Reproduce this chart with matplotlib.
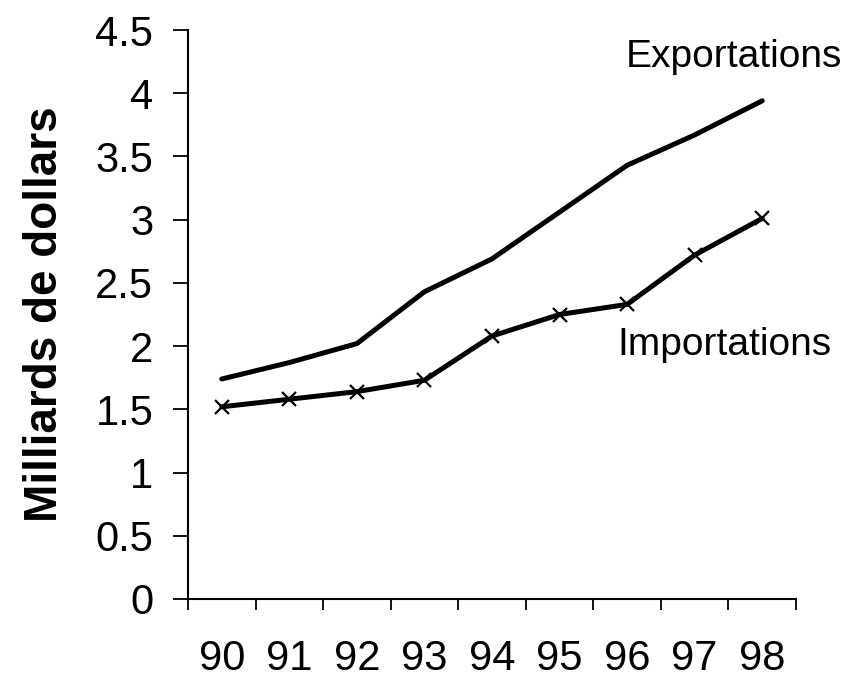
import matplotlib
matplotlib.use("Agg")
import matplotlib.pyplot as plt
import numpy as np

years = ["90", "91", "92", "93", "94", "95", "96", "97", "98"]
exportations = [1.74, 1.87, 2.02, 2.43, 2.69, 3.06, 3.43, 3.67, 3.94]
importations = [1.52, 1.58, 1.64, 1.73, 2.08, 2.25, 2.33, 2.72, 3.01]
yticks = [0, 0.5, 1, 1.5, 2, 2.5, 3, 3.5, 4, 4.5]
ytick_labels = ["0", "0.5", "1", "1.5", "2", "2.5", "3", "3.5", "4", "4.5"]

plt.rcParams['font.family'] = ['Liberation Sans', 'DejaVu Sans']

W, H = 866, 681
fig = plt.figure(figsize=(W / 100, H / 100), dpi=100)
left, right, bottom, top = 188, 796, 599, 30
ax = fig.add_axes([left / W, (H - bottom) / H, (right - left) / W, (bottom - top) / H])

x = np.arange(len(years))
ax.plot(x, exportations, color='black', lw=3.6, solid_capstyle='round', solid_joinstyle='round')
ax.plot(x, importations, color='black', lw=3.6, marker='x', markersize=10, markeredgewidth=1.6,
        solid_capstyle='round', solid_joinstyle='round')

ax.set_xlim(-0.5, len(years) - 0.5)
ax.set_ylim(0, 4.5)

ax.set_xticks(np.arange(-0.5, len(years), 1.0))
ax.set_xticklabels([])
ax.set_xticks(x, minor=True)
ax.set_xticklabels(years, minor=True)
ax.tick_params(axis='x', which='major', direction='out', length=8, width=1.3)
ax.tick_params(axis='x', which='minor', length=0, pad=29, labelsize=30)

ax.set_yticks(yticks)
ax.set_yticklabels(ytick_labels)
ax.tick_params(axis='y', direction='out', length=11, width=1.3, pad=14, labelsize=30)

for s in ['top', 'right']:
    ax.spines[s].set_visible(False)
for s in ['left', 'bottom']:
    ax.spines[s].set_linewidth(1.5)

ax.set_ylabel("Milliards de dollars", fontsize=33, fontweight='bold', labelpad=20)

ax.text(5.98, 4.21, "Exportations", fontsize=28, va='baseline', ha='left')
ax.text(5.85, 1.93, "Importations", fontsize=28, va='baseline', ha='left')

fig.savefig("out.png", dpi=100)
